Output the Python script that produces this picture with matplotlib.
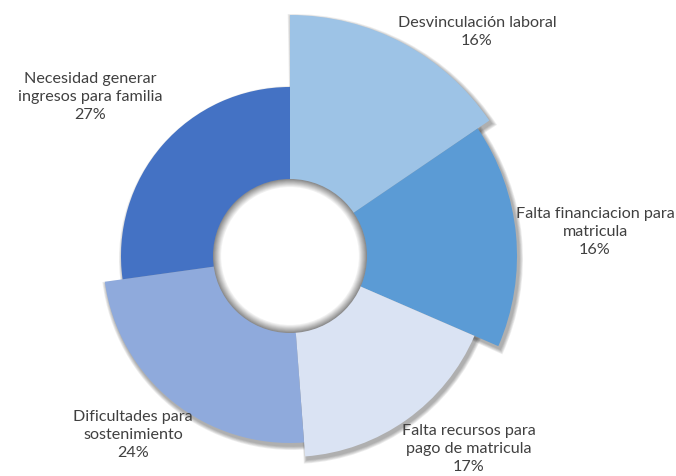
import matplotlib.pyplot as plt
from matplotlib.patches import Wedge, Circle

# =====================
# datos
# =====================
categorias = ["Desvinculación laboral", "Falta financiacion para\nmatricula",
              "Falta recursos para\npago de matricula", "Dificultades para\nsostenimiento",
              "Necesidad generar\ningresos para familia"]
porcentajes = [15.5, 16.0, 17.3, 24.0, 27.2]

# estilo
colores = ["#9DC3E6", "#5B9BD5", "#DAE3F3", "#8FAADC", "#4472C4"]
radios = [241, 227, 201, 187, 169]
pos_etiquetas = [(477, 32), (595, 232), (469, 449), (133, 435), (90, 97)]
centro = (290, 257)
r_hueco = 76

fig = plt.figure(figsize=(6.76, 4.77), dpi=100)
ax = fig.add_axes([0, 0, 1, 1])
ax.set_xlim(0, 676)
ax.set_ylim(477, 0)
ax.axis("off")

total = sum(porcentajes)
acum = 0
for val, col, r in zip(porcentajes, colores, radios):
    # ángulos en sentido horario desde arriba (eje y invertido)
    t1 = -90 + acum / total * 360
    t2 = -90 + (acum + val) / total * 360
    # sombra difusa
    for k in range(5, 0, -1):
        ax.add_patch(Wedge((centro[0] + 2, centro[1] + 3), r + k * 0.8, t1 - 0.2 * k, t2 + 0.2 * k,
                           width=r - r_hueco + k, facecolor="black", edgecolor="none",
                           alpha=0.07, zorder=1))
    ax.add_patch(Wedge(centro, r, t1, t2, width=r - r_hueco,
                       facecolor=col, edgecolor="none", zorder=2))
    acum += val

# hueco con sombra interior
pasos = 10
for i in range(pasos):
    g = 0.55 + 0.45 * i / (pasos - 1)
    ax.add_patch(Circle(centro, r_hueco + 1 - i * 0.9, facecolor=(g, g, g),
                        edgecolor="none", zorder=3))
ax.add_patch(Circle(centro, r_hueco + 1 - pasos * 0.9, facecolor="white",
                    edgecolor="none", zorder=3))

for cat, val, (x, y) in zip(categorias, porcentajes, pos_etiquetas):
    ax.text(x, y, f"{cat}\n{val:.0f}%", ha="center", va="center", fontsize=11.6,
            family="Lato", color="#404040", linespacing=1.35, zorder=5)

fig.savefig("out.png", dpi=100)
